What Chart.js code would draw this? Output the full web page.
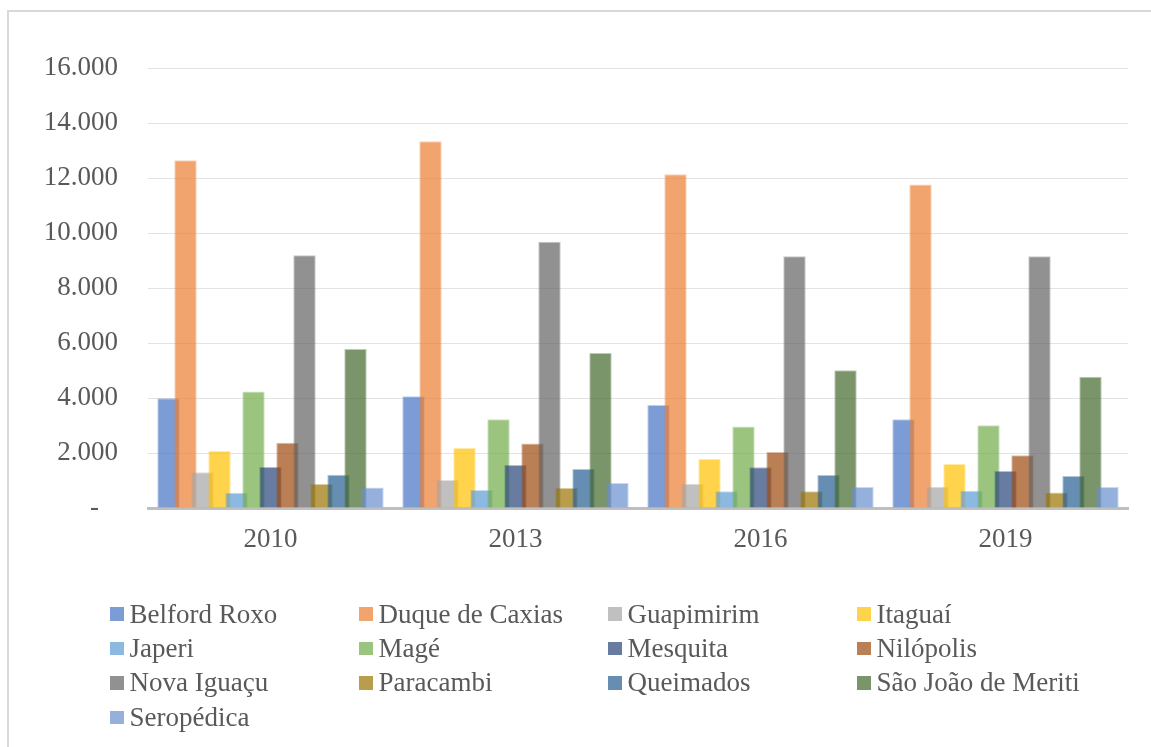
<!DOCTYPE html>
<html>
<head>
<meta charset="utf-8">
<script src="https://cdn.jsdelivr.net/npm/chart.js@4.4.0/dist/chart.umd.min.js"></script>
<style>
  html, body { margin: 0; padding: 0; background: #fff; }
  #wrap { position: relative; width: 1151px; height: 747px; overflow: hidden;
          font-family: 'Liberation Serif', 'Times New Roman', serif; }
  #frame { position: absolute; left: 7px; top: 10px; width: 1170px; height: 770px;
           border: 2px solid #d9d9d9; box-sizing: border-box; }
  #c { position: absolute; left: 0; top: 0; }
  #legend { position: absolute; left: 110px; top: 597px; display: grid;
            grid-template-columns: repeat(4, 249px); grid-auto-rows: 34.4px; }
  .item { display: flex; align-items: center; font-size: 27px; color: #595959; white-space: nowrap; }
  .box { width: 13.5px; height: 13.5px; margin-right: 6px; flex: none; }
</style>
</head>
<body>
<div id="wrap">
  <div id="frame"></div>
  <canvas id="c" width="1151" height="747"></canvas>
  <div id="legend"></div>
</div>
<script>
// Categories (years)
const years = ['2010', '2013', '2016', '2019'];

// Municipalities, in legend / drawing order
const municipios = [
  'Belford Roxo', 'Duque de Caxias', 'Guapimirim', 'Itaguaí',
  'Japeri', 'Magé', 'Mesquita', 'Nilópolis',
  'Nova Iguaçu', 'Paracambi', 'Queimados', 'São João de Meriti',
  'Seropédica'
];

// Values per municipality, one per year
const belfordRoxo     = [3990, 4060, 3745, 3225];
const duqueDeCaxias   = [12645, 13335, 12135, 11760];
const guapimirim      = [1300, 1020, 885, 775];
const itaguai         = [2075, 2180, 1780, 1600];
const japeri          = [555, 655, 605, 630];
const mage            = [4240, 3225, 2960, 3005];
const mesquita        = [1490, 1565, 1480, 1345];
const nilopolis       = [2375, 2350, 2035, 1915];
const novaIguacu      = [9190, 9685, 9155, 9155];
const paracambi       = [875, 725, 605, 560];
const queimados       = [1210, 1420, 1200, 1165];
const saoJoaoDeMeriti = [5780, 5635, 5005, 4775];
const seropedica      = [750, 910, 765, 765];

const seriesValues = [
  belfordRoxo, duqueDeCaxias, guapimirim, itaguai,
  japeri, mage, mesquita, nilopolis,
  novaIguacu, paracambi, queimados, saoJoaoDeMeriti,
  seropedica
];

// Y axis range
const yMax = 16000;
const yStep = 2000;

// Office palette
const palette = [
  '#4472C4', '#ED7D31', '#A5A5A5', '#FFC000', '#5B9BD5', '#70AD47',
  '#264478', '#9E480E', '#636363', '#997300', '#255E91', '#43682B', '#698ED0'
];

function rgba(hex, a) {
  const n = parseInt(hex.slice(1), 16);
  return `rgba(${(n >> 16) & 255}, ${(n >> 8) & 255}, ${n & 255}, ${a})`;
}

function thousands(v) {
  if (v === 0) return '-\u00a0\u00a0\u2009';
  return String(v).replace(/\B(?=(\d{3})+(?!\d))/g, '.');
}

const FONT = { family: "'Liberation Serif', 'Times New Roman', serif", size: 27 };
const TEXT = '#595959';

// Later series sit on top of earlier ones where the bars overlap
const drawInSeriesOrder = {
  id: 'drawInSeriesOrder',
  beforeDatasetsDraw(chart) {
    const ctx = chart.ctx, a = chart.chartArea;
    ctx.save();
    ctx.beginPath();
    ctx.rect(a.left, a.top, a.right - a.left, a.bottom - a.top);
    ctx.clip();
    chart.getSortedVisibleDatasetMetas().forEach(m => m.controller.draw());
    ctx.restore();
    return false;
  }
};

const datasets = municipios.map((name, i) => ({
  label: name,
  data: seriesValues[i],
  backgroundColor: rgba(palette[i], 0.7),
  borderColor: rgba(palette[i], 0.35),
  borderWidth: 1,
  borderSkipped: 'bottom',
  categoryPercentage: 0.902,
  barPercentage: 1.32
}));

new Chart(document.getElementById('c'), {
  type: 'bar',
  data: { labels: years, datasets },
  plugins: [drawInSeriesOrder],
  options: {
    responsive: false,
    animation: false,
    layout: { padding: { top: 68, right: 23, left: 0, bottom: 0 } },
    plugins: { legend: { display: false }, tooltip: { enabled: false } },
    scales: {
      x: {
        z: 1,
        grid: { display: false, drawTicks: false },
        border: { display: true, color: '#bfbfbf', width: 3 },
        ticks: { font: FONT, color: TEXT, padding: 16 },
        afterFit(scale) { scale.height = 239; }
      },
      y: {
        min: 0,
        max: yMax,
        grid: { color: '#e3e3e3', lineWidth: 1, drawTicks: false },
        border: { display: false },
        ticks: { stepSize: yStep, font: FONT, color: TEXT, padding: 30, callback: v => thousands(v) },
        afterFit(scale) { scale.width = 148; }
      }
    }
  }
});

// Legend in a four-column grid
const legend = document.getElementById('legend');
municipios.forEach((name, i) => {
  const item = document.createElement('div');
  item.className = 'item';
  const box = document.createElement('span');
  box.className = 'box';
  box.style.background = rgba(palette[i], 0.7);
  const label = document.createElement('span');
  label.textContent = name;
  item.appendChild(box);
  item.appendChild(label);
  legend.appendChild(item);
});
</script>
</body>
</html>
